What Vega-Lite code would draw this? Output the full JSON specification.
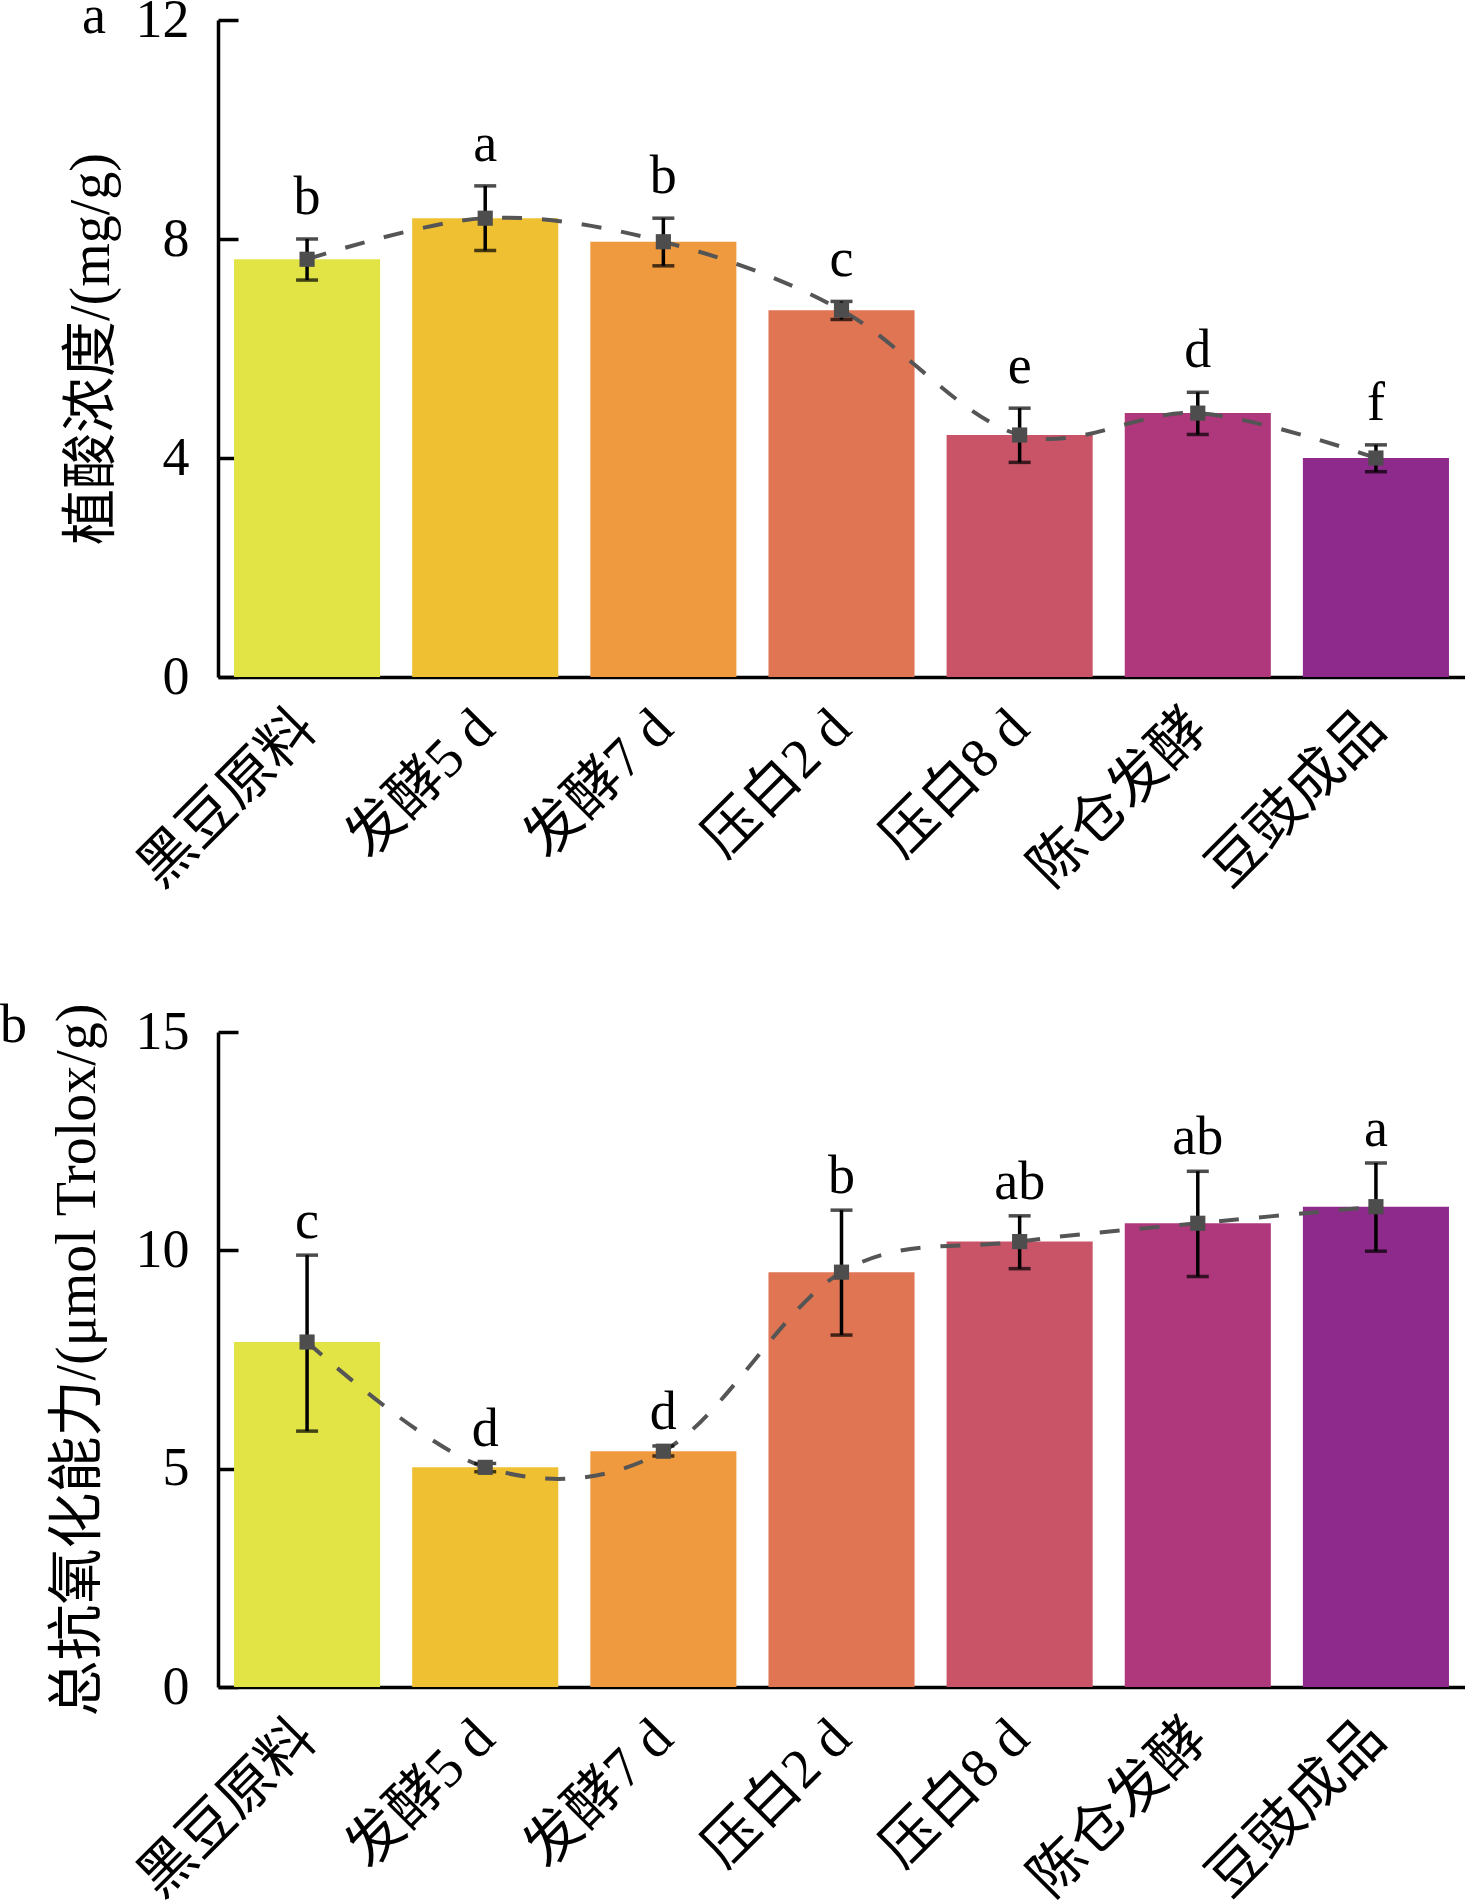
{
  "$schema": "https://vega.github.io/schema/vega-lite/v6.json",
  "padding": {"left": 0, "top": -10, "right": 0, "bottom": 0},
  "background": "white",
  "config": {
    "view": {"stroke": null},
    "font": "Liberation Serif, Noto Sans CJK SC",
    "axis": {
      "grid": false,
      "domainColor": "black",
      "domainWidth": 3.5,
      "tickColor": "black",
      "tickWidth": 3.5,
      "labelColor": "black",
      "titleColor": "black",
      "labelFont": "Liberation Serif, Noto Sans CJK SC",
      "titleFont": "Liberation Serif, Noto Sans CJK SC",
      "titleFontWeight": "normal"
    },
    "axisX": {
      "ticks": false,
      "labelAngle": -45,
      "labelFontSize": 56,
      "labelPadding": 23,
      "labelOffset": -19,
      "labelLimit": 0,
      "title": null
    },
    "axisY": {
      "tickSize": -20,
      "labelPadding": 49,
      "labelFontSize": 54,
      "titleFontSize": 56,
      "format": "d"
    },
    "title": {
      "anchor": "start",
      "frame": "group",
      "font": "Liberation Serif",
      "fontSize": 54,
      "fontWeight": "normal",
      "color": "black",
      "baseline": "alphabetic"
    }
  },
  "datasets": {
    "phytic": [
      {"stage": "黑豆原料", "mean": 7.63, "lo": 7.25, "hi": 8.0, "sig": "b"},
      {"stage": "发酵5 d", "mean": 8.38, "lo": 7.79, "hi": 8.97, "sig": "a"},
      {"stage": "发酵7 d", "mean": 7.95, "lo": 7.51, "hi": 8.38, "sig": "b"},
      {"stage": "压白2 d", "mean": 6.7, "lo": 6.53, "hi": 6.86, "sig": "c"},
      {"stage": "压白8 d", "mean": 4.42, "lo": 3.92, "hi": 4.91, "sig": "e"},
      {"stage": "陈仓发酵", "mean": 4.82, "lo": 4.43, "hi": 5.2, "sig": "d"},
      {"stage": "豆豉成品", "mean": 4.0, "lo": 3.75, "hi": 4.24, "sig": "f"}
    ],
    "antiox": [
      {"stage": "黑豆原料", "mean": 7.9, "lo": 5.86, "hi": 9.89, "sig": "c"},
      {"stage": "发酵5 d", "mean": 5.03, "lo": 4.93, "hi": 5.12, "sig": "d"},
      {"stage": "发酵7 d", "mean": 5.4, "lo": 5.29, "hi": 5.52, "sig": "d"},
      {"stage": "压白2 d", "mean": 9.5, "lo": 8.06, "hi": 10.92, "sig": "b"},
      {"stage": "压白8 d", "mean": 10.2, "lo": 9.58, "hi": 10.79, "sig": "ab"},
      {"stage": "陈仓发酵", "mean": 10.62, "lo": 9.4, "hi": 11.81, "sig": "ab"},
      {"stage": "豆豉成品", "mean": 11.0, "lo": 9.98, "hi": 12.0, "sig": "a"}
    ]
  },
  "spacing": 100,
  "vconcat": [
    {
      "title": {"text": "a", "dx": -136, "offset": -51},
      "width": 1247,
      "height": 657,
      "data": {"name": "phytic"},
      "encoding": {
        "x": {
          "field": "stage",
          "type": "nominal",
          "sort": null,
          "scale": {"paddingInner": 0.18, "paddingOuter": 0.09}
        }
      },
      "layer": [
        {
          "mark": {"type": "bar"},
          "encoding": {
            "y": {
              "field": "mean",
              "type": "quantitative",
              "title": "植酸浓度/(mg/g)",
              "scale": {"domain": [0, 12], "nice": false},
              "axis": {"values": [0, 4, 8, 12], "titlePadding": 15}
            },
            "color": {
              "field": "stage",
              "type": "nominal",
              "sort": null,
              "scale": {
                "domain": ["黑豆原料", "发酵5 d", "发酵7 d", "压白2 d", "压白8 d", "陈仓发酵", "豆豉成品"],
                "range": ["#E2E446", "#F0C033", "#F09A3F", "#E07554", "#C95468", "#AF377B", "#8D2A8B"]
              },
              "legend": null
            }
          }
        },
        {
          "mark": {"type": "line", "interpolate": "cardinal", "color": "#555555", "strokeWidth": 4, "strokeDash": [20, 20]},
          "encoding": {
            "y": {"field": "mean", "type": "quantitative", "title": "植酸浓度/(mg/g)", "scale": {"domain": [0, 12], "nice": false}}
          }
        },
        {
          "mark": {
            "type": "errorbar",
            "color": "black",
            "rule": {"strokeWidth": 3.5},
            "ticks": {"size": 22, "thickness": 3.5}
          },
          "encoding": {
            "y": {"field": "lo", "type": "quantitative", "title": "植酸浓度/(mg/g)", "scale": {"domain": [0, 12], "nice": false}},
            "y2": {"field": "hi"}
          }
        },
        {
          "mark": {"type": "point", "shape": "square", "filled": true, "opacity": 1, "color": "#4D4D4D", "size": 230},
          "encoding": {
            "y": {"field": "mean", "type": "quantitative", "title": "植酸浓度/(mg/g)", "scale": {"domain": [0, 12], "nice": false}}
          }
        },
        {
          "mark": {"type": "text", "baseline": "alphabetic", "dy": -25, "fontSize": 54, "color": "black", "font": "Liberation Serif"},
          "encoding": {
            "y": {"field": "hi", "type": "quantitative", "title": "植酸浓度/(mg/g)", "scale": {"domain": [0, 12], "nice": false}},
            "text": {"field": "sig"}
          }
        }
      ]
    },
    {
      "title": {"text": "b", "dx": -218, "offset": -50},
      "width": 1247,
      "height": 655,
      "data": {"name": "antiox"},
      "encoding": {
        "x": {
          "field": "stage",
          "type": "nominal",
          "sort": null,
          "scale": {"paddingInner": 0.18, "paddingOuter": 0.09}
        }
      },
      "layer": [
        {
          "mark": {"type": "bar"},
          "encoding": {
            "y": {
              "field": "mean",
              "type": "quantitative",
              "title": "总抗氧化能力/(μmol Trolox/g)",
              "scale": {"domain": [0, 15], "nice": false},
              "axis": {"values": [0, 5, 10, 15], "titlePadding": 29}
            },
            "color": {
              "field": "stage",
              "type": "nominal",
              "sort": null,
              "scale": {
                "domain": ["黑豆原料", "发酵5 d", "发酵7 d", "压白2 d", "压白8 d", "陈仓发酵", "豆豉成品"],
                "range": ["#E2E446", "#F0C033", "#F09A3F", "#E07554", "#C95468", "#AF377B", "#8D2A8B"]
              },
              "legend": null
            }
          }
        },
        {
          "mark": {"type": "line", "interpolate": "cardinal", "color": "#555555", "strokeWidth": 4, "strokeDash": [20, 20]},
          "encoding": {
            "y": {"field": "mean", "type": "quantitative", "title": "总抗氧化能力/(μmol Trolox/g)", "scale": {"domain": [0, 15], "nice": false}}
          }
        },
        {
          "mark": {
            "type": "errorbar",
            "color": "black",
            "rule": {"strokeWidth": 3.5},
            "ticks": {"size": 22, "thickness": 3.5}
          },
          "encoding": {
            "y": {"field": "lo", "type": "quantitative", "title": "总抗氧化能力/(μmol Trolox/g)", "scale": {"domain": [0, 15], "nice": false}},
            "y2": {"field": "hi"}
          }
        },
        {
          "mark": {"type": "point", "shape": "square", "filled": true, "opacity": 1, "color": "#4D4D4D", "size": 230},
          "encoding": {
            "y": {"field": "mean", "type": "quantitative", "title": "总抗氧化能力/(μmol Trolox/g)", "scale": {"domain": [0, 15], "nice": false}}
          }
        },
        {
          "mark": {"type": "text", "baseline": "alphabetic", "dy": -17, "fontSize": 54, "color": "black", "font": "Liberation Serif"},
          "encoding": {
            "y": {"field": "hi", "type": "quantitative", "title": "总抗氧化能力/(μmol Trolox/g)", "scale": {"domain": [0, 15], "nice": false}},
            "text": {"field": "sig"}
          }
        }
      ]
    }
  ]
}
